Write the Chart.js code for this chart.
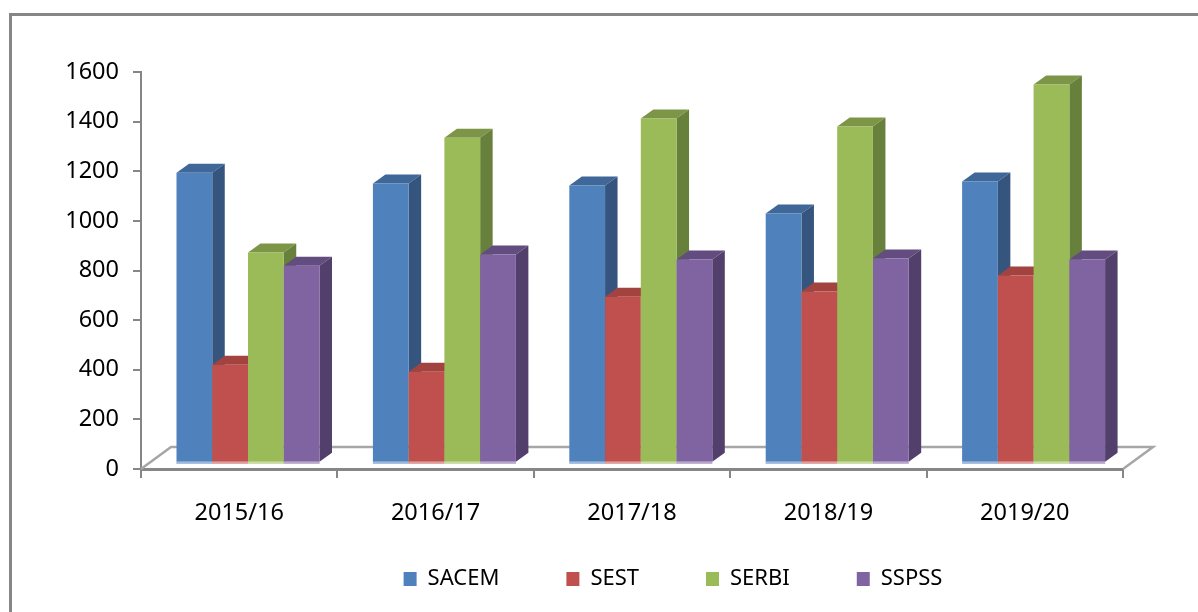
<!DOCTYPE html>
<html><head><meta charset="utf-8">
<style>
html,body{margin:0;padding:0;background:#fff;width:1198px;height:612px;overflow:hidden}
#frame{position:absolute;left:9px;top:13px;width:1300px;height:800px;border:3px solid #868686}
#wrap{position:absolute;left:0;top:0;width:1198px;height:612px}
</style>
<script src="https://cdn.jsdelivr.net/npm/chart.js@4/dist/chart.umd.min.js"></script>
</head><body>
<div id="frame"></div>
<div id="wrap"><canvas id="c" width="1198" height="612"></canvas></div>
<script>
const categories = ['2015/16','2016/17','2017/18','2018/19','2019/20'];
const SACEM = [1169,1125,1117,1004,1133];
const SEST  = [395,367,669,690,754];
const SERBI = [847,1310,1387,1355,1524];
const SSPSS = [794,839,819,823,819];
const yTicks = [0,200,400,600,800,1000,1200,1400,1600];
const FONT = '"Noto Sans"';

const seriesStyle = [
  {name:'SACEM',data:SACEM,front:'#4F81BD',side:'#35557F',top:'#3F6797'},
  {name:'SEST', data:SEST, front:'#C0504D',side:'#8A3A38',top:'#A2433F'},
  {name:'SERBI',data:SERBI,front:'#9BBB59',side:'#67803B',top:'#7C9547'},
  {name:'SSPSS',data:SSPSS,front:'#8064A2',side:'#523F6B',top:'#634D80'}
];

const bars3d = {
  id:'bars3d',
  beforeLayout(chart){
    const l = chart.legend;
    if(!l._fixed){
      const f = l.fit;
      l.fit = function(){ f.call(this); this.height = 60; };
      l._fixed = true;
    }
  },
  afterLayout(chart){
    const l = chart.legend;
    l.left += 91; l.right += 91;
    l.top = 568 - l.options.labels.padding;
    l.bottom = 612;
  },
  beforeDatasetsDraw(chart){
    const ctx = chart.ctx, a = chart.chartArea;
    const DX = 30, DY = 22;
    // floor
    ctx.save();
    ctx.strokeStyle = '#A6A6A6'; ctx.lineWidth = 2.5;
    ctx.beginPath();
    ctx.moveTo(a.left, a.bottom);
    ctx.lineTo(a.left+DX, a.bottom-DY);
    ctx.lineTo(a.right+DX, a.bottom-DY);
    ctx.lineTo(a.right, a.bottom);
    ctx.stroke();
    ctx.restore();
    // bars, left to right, each with its depth faces
    const sx = 8.8, sy = -6.3, dx = 12.5, dy = 9;
    ctx.save();
    ctx.translate(sx, sy);
    seriesStyle.forEach((s,i)=>{
      chart.getDatasetMeta(i).data.forEach(bar=>{
        const p = bar.getProps(['x','y','base','width']);
        const l = p.x-p.width/2, r = p.x+p.width/2;
        ctx.fillStyle = s.top;
        ctx.beginPath();
        ctx.moveTo(l,p.y); ctx.lineTo(l+dx,p.y-dy); ctx.lineTo(r+dx,p.y-dy); ctx.lineTo(r,p.y);
        ctx.closePath(); ctx.fill();
        ctx.fillStyle = s.side;
        ctx.beginPath();
        ctx.moveTo(r,p.y); ctx.lineTo(r+dx,p.y-dy); ctx.lineTo(r+dx,p.base-dy); ctx.lineTo(r,p.base);
        ctx.closePath(); ctx.fill();
        bar.draw(ctx);
        ctx.fillStyle = s.front;
        ctx.fillRect(l,p.base,p.width,2);
        ctx.fillStyle = 'rgba(255,255,255,0.45)';
        ctx.fillRect(l,p.base,p.width,2);
      });
    });
    ctx.restore();
    return false;
  }
};

new Chart(document.getElementById('c'),{
  type:'bar',
  data:{
    labels:categories,
    datasets:seriesStyle.map(s=>({
      label:s.name,data:s.data,backgroundColor:s.front,borderWidth:0,
      barPercentage:1,categoryPercentage:0.728
    }))
  },
  plugins:[bars3d],
  options:{
    responsive:false,animation:false,
    layout:{padding:{left:41,right:75,top:72,bottom:0}},
    plugins:{
      title:{display:false},tooltip:{enabled:false},
      legend:{
        display:true,position:'bottom',
        labels:{boxWidth:13,boxHeight:14,padding:67,color:'#000',font:{family:FONT,size:22}}
      }
    },
    scales:{
      x:{
        afterFit(s){s.height=83;},
        grid:{display:true,drawOnChartArea:false,drawTicks:true,tickLength:9,color:'#868686',lineWidth:2,offset:true},
        border:{color:'#868686',width:3},
        ticks:{color:'#000',padding:21,maxRotation:0,font:{family:FONT,size:23.5}}
      },
      y:{
        min:0,max:1600,
        afterFit(s){s.width=100;},
        afterBuildTicks(s){s.ticks=yTicks.map(v=>({value:v}));},
        grid:{display:true,drawOnChartArea:false,drawTicks:true,tickLength:8,color:'#868686',lineWidth:2},
        border:{color:'#868686',width:2},
        ticks:{color:'#000',padding:14,font:{family:FONT,size:23.5},callback:v=>String(v)}
      }
    }
  }
});
</script>
</body></html>
